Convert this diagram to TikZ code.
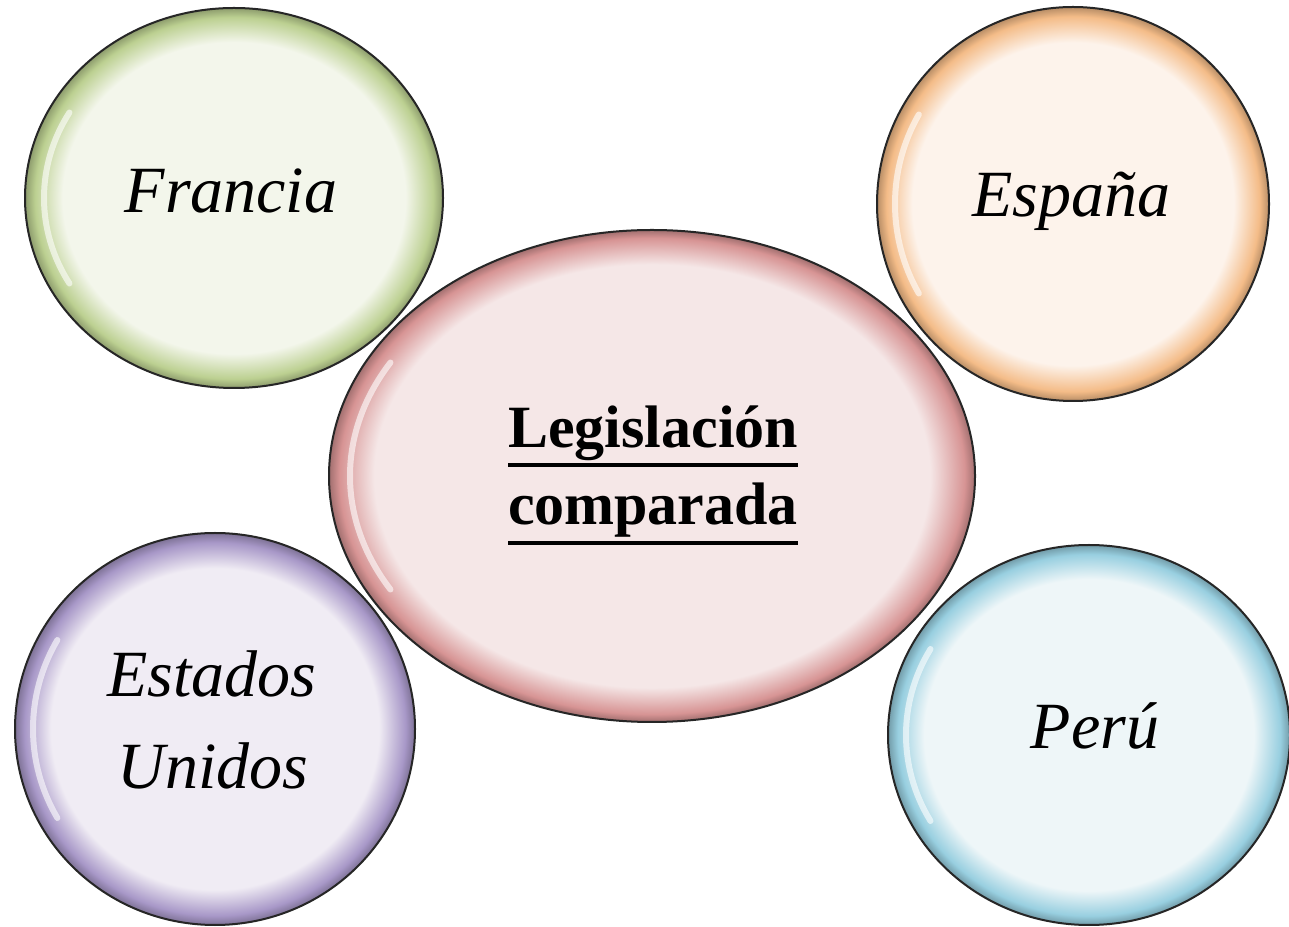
\documentclass[tikz,border=0pt]{standalone}
\usepackage{fontspec}
\setmainfont{Liberation Serif}
\usetikzlibrary{shapes.geometric}
\definecolor{gpale}{HTML}{F3F6EB}\definecolor{grim}{HTML}{BCD091}
\definecolor{opale}{HTML}{FDF3EB}\definecolor{orim}{HTML}{F4BC88}
\definecolor{ppale}{HTML}{F5E7E7}\definecolor{prim}{HTML}{D79494}
\definecolor{vpale}{HTML}{F0ECF4}\definecolor{vrim}{HTML}{A898C8}
\definecolor{bpale}{HTML}{EEF6F8}\definecolor{brim}{HTML}{98CFE0}
\pgfdeclareradialshading{shgreen}{\pgfpoint{0bp}{0bp}}{color(0bp)=(gpale); color(20.5bp)=(gpale); color(23.8bp)=(grim); color(25bp)=(grim!75!black); color(50bp)=(grim!75!black)}
\pgfdeclareradialshading{shorange}{\pgfpoint{0bp}{0bp}}{color(0bp)=(opale); color(20.5bp)=(opale); color(23.8bp)=(orim); color(25bp)=(orim!75!black); color(50bp)=(orim!75!black)}
\pgfdeclareradialshading{shpink}{\pgfpoint{0bp}{0bp}}{color(0bp)=(ppale); color(21.5bp)=(ppale); color(24.2bp)=(prim); color(25bp)=(prim!75!black); color(50bp)=(prim!75!black)}
\pgfdeclareradialshading{shviolet}{\pgfpoint{0bp}{0bp}}{color(0bp)=(vpale); color(20.5bp)=(vpale); color(23.8bp)=(vrim); color(25bp)=(vrim!75!black); color(50bp)=(vrim!75!black)}
\pgfdeclareradialshading{shblue}{\pgfpoint{0bp}{0bp}}{color(0bp)=(bpale); color(20.5bp)=(bpale); color(23.8bp)=(brim); color(25bp)=(brim!75!black); color(50bp)=(brim!75!black)}
\tikzset{
  bubble/.style={ellipse, inner sep=0pt, draw=black!85, line width=2pt},
  hl/.style={draw=white, line width=6pt, opacity=0.6, line cap=round},
  country/.style={font=\fontsize{66}{79}\selectfont\itshape, inner sep=0pt, anchor=base},
  maintxt/.style={font=\fontsize{60}{72}\selectfont\bfseries, inner sep=0pt, anchor=base},
  uline/.style={line width=4pt}
}
\begin{document}
\begin{tikzpicture}[x=1pt,y=1pt]
\useasboundingbox (0,0) rectangle (1289,926);
\fill[white] (0,0) rectangle (1289,926);
% bubbles
\node[bubble, shading=shgreen, minimum width=418, minimum height=380] (F) at (234,728) {};
\node[bubble, shading=shorange, minimum width=392, minimum height=394] (E) at (1073,722) {};
\node[bubble, shading=shviolet, minimum width=400, minimum height=392] (U) at (215,197) {};
\node[bubble, shading=shblue, minimum width=402, minimum height=380] (P) at (1089,191) {};
\node[bubble, shading=shpink, minimum width=646, minimum height=492] (L) at (652,450) {};
% highlights
\draw[hl] (F.center) ++(150:190 and 171) arc[start angle=150,end angle=210,x radius=190,y radius=171];
\draw[hl] (E.center) ++(150:178 and 179) arc[start angle=150,end angle=210,x radius=178,y radius=179];
\draw[hl] (U.center) ++(150:182 and 178) arc[start angle=150,end angle=210,x radius=182,y radius=178];
\draw[hl] (P.center) ++(150:183 and 172) arc[start angle=150,end angle=210,x radius=183,y radius=172];
\draw[hl] (L.center) ++(150:302 and 227) arc[start angle=150,end angle=210,x radius=302,y radius=227];
% texts
\node[country] (tF) at (231,713) {Francia};
\node[country] (tE) at (1071,709) {España};
\node[country] (tU1) at (212,229) {Estados};
\node[country] (tU2) at (213,138) {Unidos};
\node[country] (tP) at (1095,178) {Perú};
\node[maintxt] (tL1) at (653,478) {Legislación};
\node[maintxt] (tL2) at (653,401) {comparada};
\coordinate (u1a) at (508,461); \coordinate (u1b) at (798,461);
\coordinate (u2a) at (508,383); \coordinate (u2b) at (798,383);
\draw[uline] (u1a) -- (u1b);
\draw[uline] (u2a) -- (u2b);
\end{tikzpicture}
\end{document}
